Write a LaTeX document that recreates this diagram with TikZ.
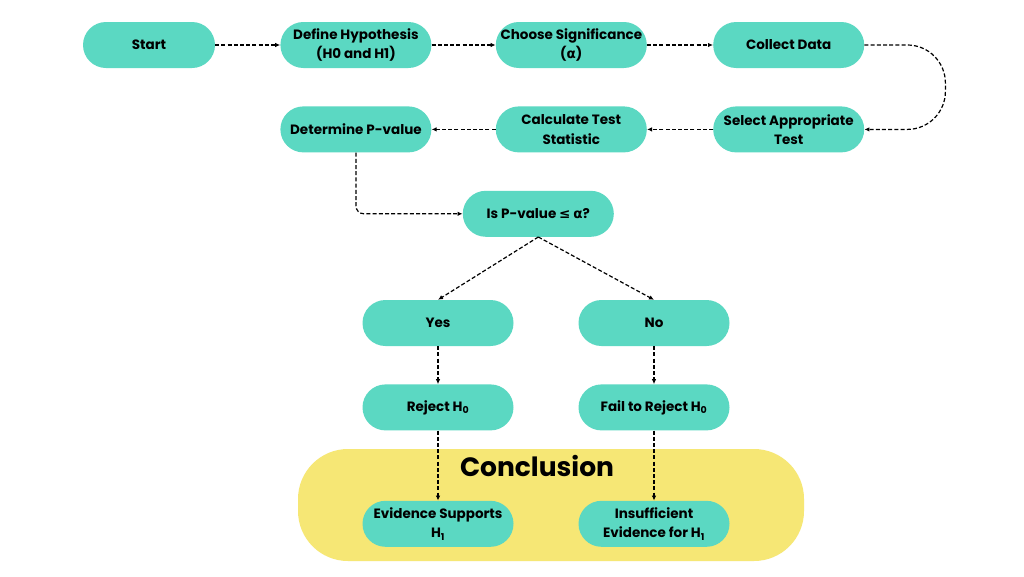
\documentclass[tikz,border=0pt]{standalone}
\usepackage{fontspec}
\setmainfont{Poppins}
\newfontfamily\symfont{DejaVu Sans}
\usetikzlibrary{arrows.meta,positioning}

\definecolor{stepteal}{HTML}{5BD8C2}
\definecolor{conclyellow}{HTML}{F6E775}
\newcommand{\alp}{{\symfont\bfseries α}}
\newcommand{\leqsym}{{\symfont\bfseries ≤}}
\newcommand{\Hsub}[1]{H\textsubscript{#1}}

\begin{document}
\begin{tikzpicture}[>={Latex[length=5pt,width=4.5pt]}, x=1pt, y=-1pt]
        \tikzset{flowstep/.style={rectangle, rounded corners=23pt, fill=stepteal, align=center, minimum width=151pt, minimum height=46pt, inner sep=2pt, font=\bfseries\fontsize{13.5}{19.5}\selectfont}, dashline/.style={->, line width=1.2pt, dash pattern=on 4pt off 2.2pt}, conclbox/.style={rectangle, rounded corners=50pt, fill=conclyellow, minimum width=506pt, minimum height=112pt}}
        \useasboundingbox (0,0) rectangle (1024,576);
        \fill[white] (0,0) rectangle (1024,576);
        \node[conclbox] (concl) at (551,505) {};
        \node[font=\bfseries\fontsize{26.5}{30}\selectfont] (ctitle) at (537,466) {Conclusion};
        \node[flowstep, minimum width=132pt] (start) at (149,45) {Start};
        \node[flowstep, right=65pt of start] (hyp) {Define Hypothesis\\(H0 and H1)};
        \node[flowstep, right=64pt of hyp] (sig) {Choose Significance\\(\alp)};
        \node[flowstep, right=66pt of sig] (collect) {Collect Data};
        \node[flowstep, below=38pt of collect] (select) {Select Appropriate\\Test};
        \node[flowstep, left=66pt of select] (calc) {Calculate Test\\Statistic};
        \node[flowstep, left=64pt of calc] (pval) {Determine P-value};
        \node[flowstep, below right=38pt and 31pt of pval] (isp) {Is P-value \leqsym{} \alp?};
        \node[flowstep] (yes) at (438,323) {Yes};
        \node[flowstep] (no) at (654,323) {No};
        \node[flowstep, below=38pt of yes] (rej) {Reject \Hsub{0}};
        \node[flowstep, below=38pt of no] (fail) {Fail to Reject \Hsub{0}};
        \node[flowstep, below=70pt of rej] (supp) {Evidence Supports\\\Hsub{1}};
        \node[flowstep, below=70pt of fail] (insuff) {Insufficient\\Evidence for \Hsub{1}};
        \draw[dashline] (start) -- (hyp);
        \draw[dashline] (hyp) -- (sig);
        \draw[dashline] (sig) -- (collect);
        \draw[dashline, rounded corners=38pt] (collect.east) -- ++(81,0) |- (select.east);
        \draw[dashline] (select) -- (calc);
        \draw[dashline] (calc) -- (pval);
        \draw[dashline, rounded corners=8pt] (pval.south) |- (isp.west);
        \draw[dashline] (isp.south) -- (yes.north);
        \draw[dashline] (isp.south) -- (no.north);
        \draw[dashline] (yes) -- (rej);
        \draw[dashline] (no) -- (fail);
        \draw[dashline] (rej) -- (supp);
        \draw[dashline] (fail) -- (insuff);
    \end{tikzpicture}
\end{document}
